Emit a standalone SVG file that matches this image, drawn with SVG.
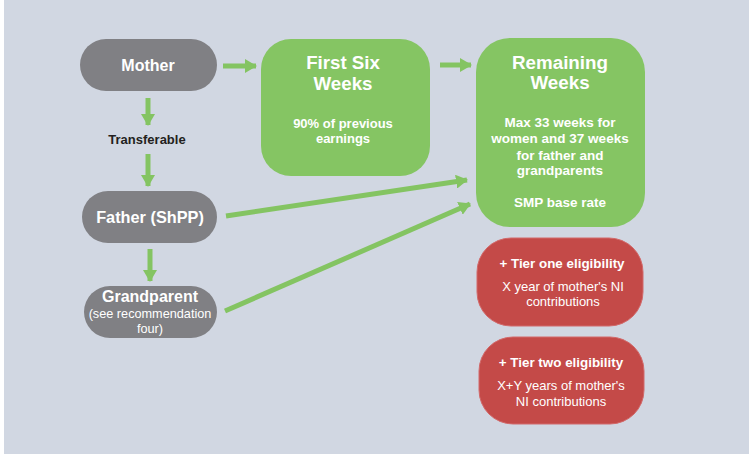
<svg xmlns="http://www.w3.org/2000/svg" width="749" height="454" viewBox="0 0 749 454">
  <defs>
    <marker id="head" viewBox="0 0 12 14" refX="11" refY="7" markerWidth="12" markerHeight="14" markerUnits="userSpaceOnUse" orient="auto">
      <path d="M0,0 L12,7 L0,14 Z" fill="#84c462"/>
    </marker>
    <style>
      .t { font-family: "Liberation Sans", Arial, sans-serif; text-anchor: middle; fill: #ffffff; }
      .b { font-weight: bold; }
      .grey { fill: #808084; }
      .green { fill: #85c563; }
      .red { fill: #c44a48; stroke: #d2696a; stroke-width: 1; }
      .link { stroke: #84c462; stroke-width: 5; fill: none; marker-end: url(#head); }
    </style>
  </defs>

  <rect x="0" y="0" width="749" height="454" fill="#d1d7e2"/>
  <rect x="0" y="0" width="4" height="454" fill="#ffffff"/>

  <g id="connectors">
    <line class="link" x1="223" y1="66" x2="256" y2="66"/>
    <line class="link" x1="440" y1="65" x2="471" y2="65"/>
    <line class="link" x1="148" y1="98" x2="148" y2="125"/>
    <line class="link" x1="148" y1="154" x2="148" y2="186"/>
    <line class="link" x1="150" y1="249" x2="150" y2="281"/>
    <line class="link" x1="226" y1="216" x2="467" y2="180"/>
    <line class="link" x1="225" y1="311" x2="470" y2="204"/>
  </g>

  <g id="mother">
    <rect class="grey" x="80" y="39" width="137" height="52" rx="26"/>
    <text class="t b" x="148" y="71" font-size="16">Mother</text>
  </g>

  <g id="transferable">
    <text class="t b" x="147" y="144" font-size="13" style="fill:#231f20">Transferable</text>
  </g>

  <g id="father">
    <rect class="grey" x="82" y="191" width="135" height="52" rx="26"/>
    <text class="t b" x="150" y="223" font-size="16.3">Father (ShPP)</text>
  </g>

  <g id="grandparent">
    <rect class="grey" x="84" y="286" width="133" height="52" rx="26"/>
    <text class="t b" x="150" y="302" font-size="16">Grandparent</text>
    <text class="t" x="150" y="318" font-size="12.7">(see recommendation</text>
    <text class="t" x="150" y="333" font-size="12.7">four)</text>
  </g>

  <g id="first-six-weeks">
    <rect class="green" x="261" y="39" width="169" height="137" rx="30"/>
    <text class="t b" x="343" y="69" font-size="18.7">First Six</text>
    <text class="t b" x="343" y="90" font-size="18.7">Weeks</text>
    <text class="t b" x="343" y="128" font-size="13">90% of previous</text>
    <text class="t b" x="343" y="143" font-size="13">earnings</text>
  </g>

  <g id="remaining-weeks">
    <rect class="green" x="476" y="38" width="169" height="189" rx="34"/>
    <text class="t b" x="560" y="69" font-size="18.8">Remaining</text>
    <text class="t b" x="560" y="89" font-size="18.8">Weeks</text>
    <text class="t b" x="560" y="127" font-size="13.5">Max 33 weeks for</text>
    <text class="t b" x="560" y="143" font-size="13.5">women and 37 weeks</text>
    <text class="t b" x="560" y="160" font-size="13.5">for father and</text>
    <text class="t b" x="560" y="175" font-size="13.5">grandparents</text>
    <text class="t b" x="560" y="207" font-size="13.5">SMP base rate</text>
  </g>

  <g id="tier-one">
    <rect class="red" x="477" y="238" width="166" height="88" rx="34"/>
    <text class="t b" x="562" y="268" font-size="13.4">+ Tier one eligibility</text>
    <text class="t" x="563" y="291" font-size="13">X year of mother's NI</text>
    <text class="t" x="563" y="306" font-size="13">contributions</text>
  </g>

  <g id="tier-two">
    <rect class="red" x="479" y="337" width="165" height="87" rx="34"/>
    <text class="t b" x="561" y="367" font-size="13.4">+ Tier two eligibility</text>
    <text class="t" x="561" y="390" font-size="13">X+Y years of mother's</text>
    <text class="t" x="561" y="406" font-size="13">NI contributions</text>
  </g>
</svg>
